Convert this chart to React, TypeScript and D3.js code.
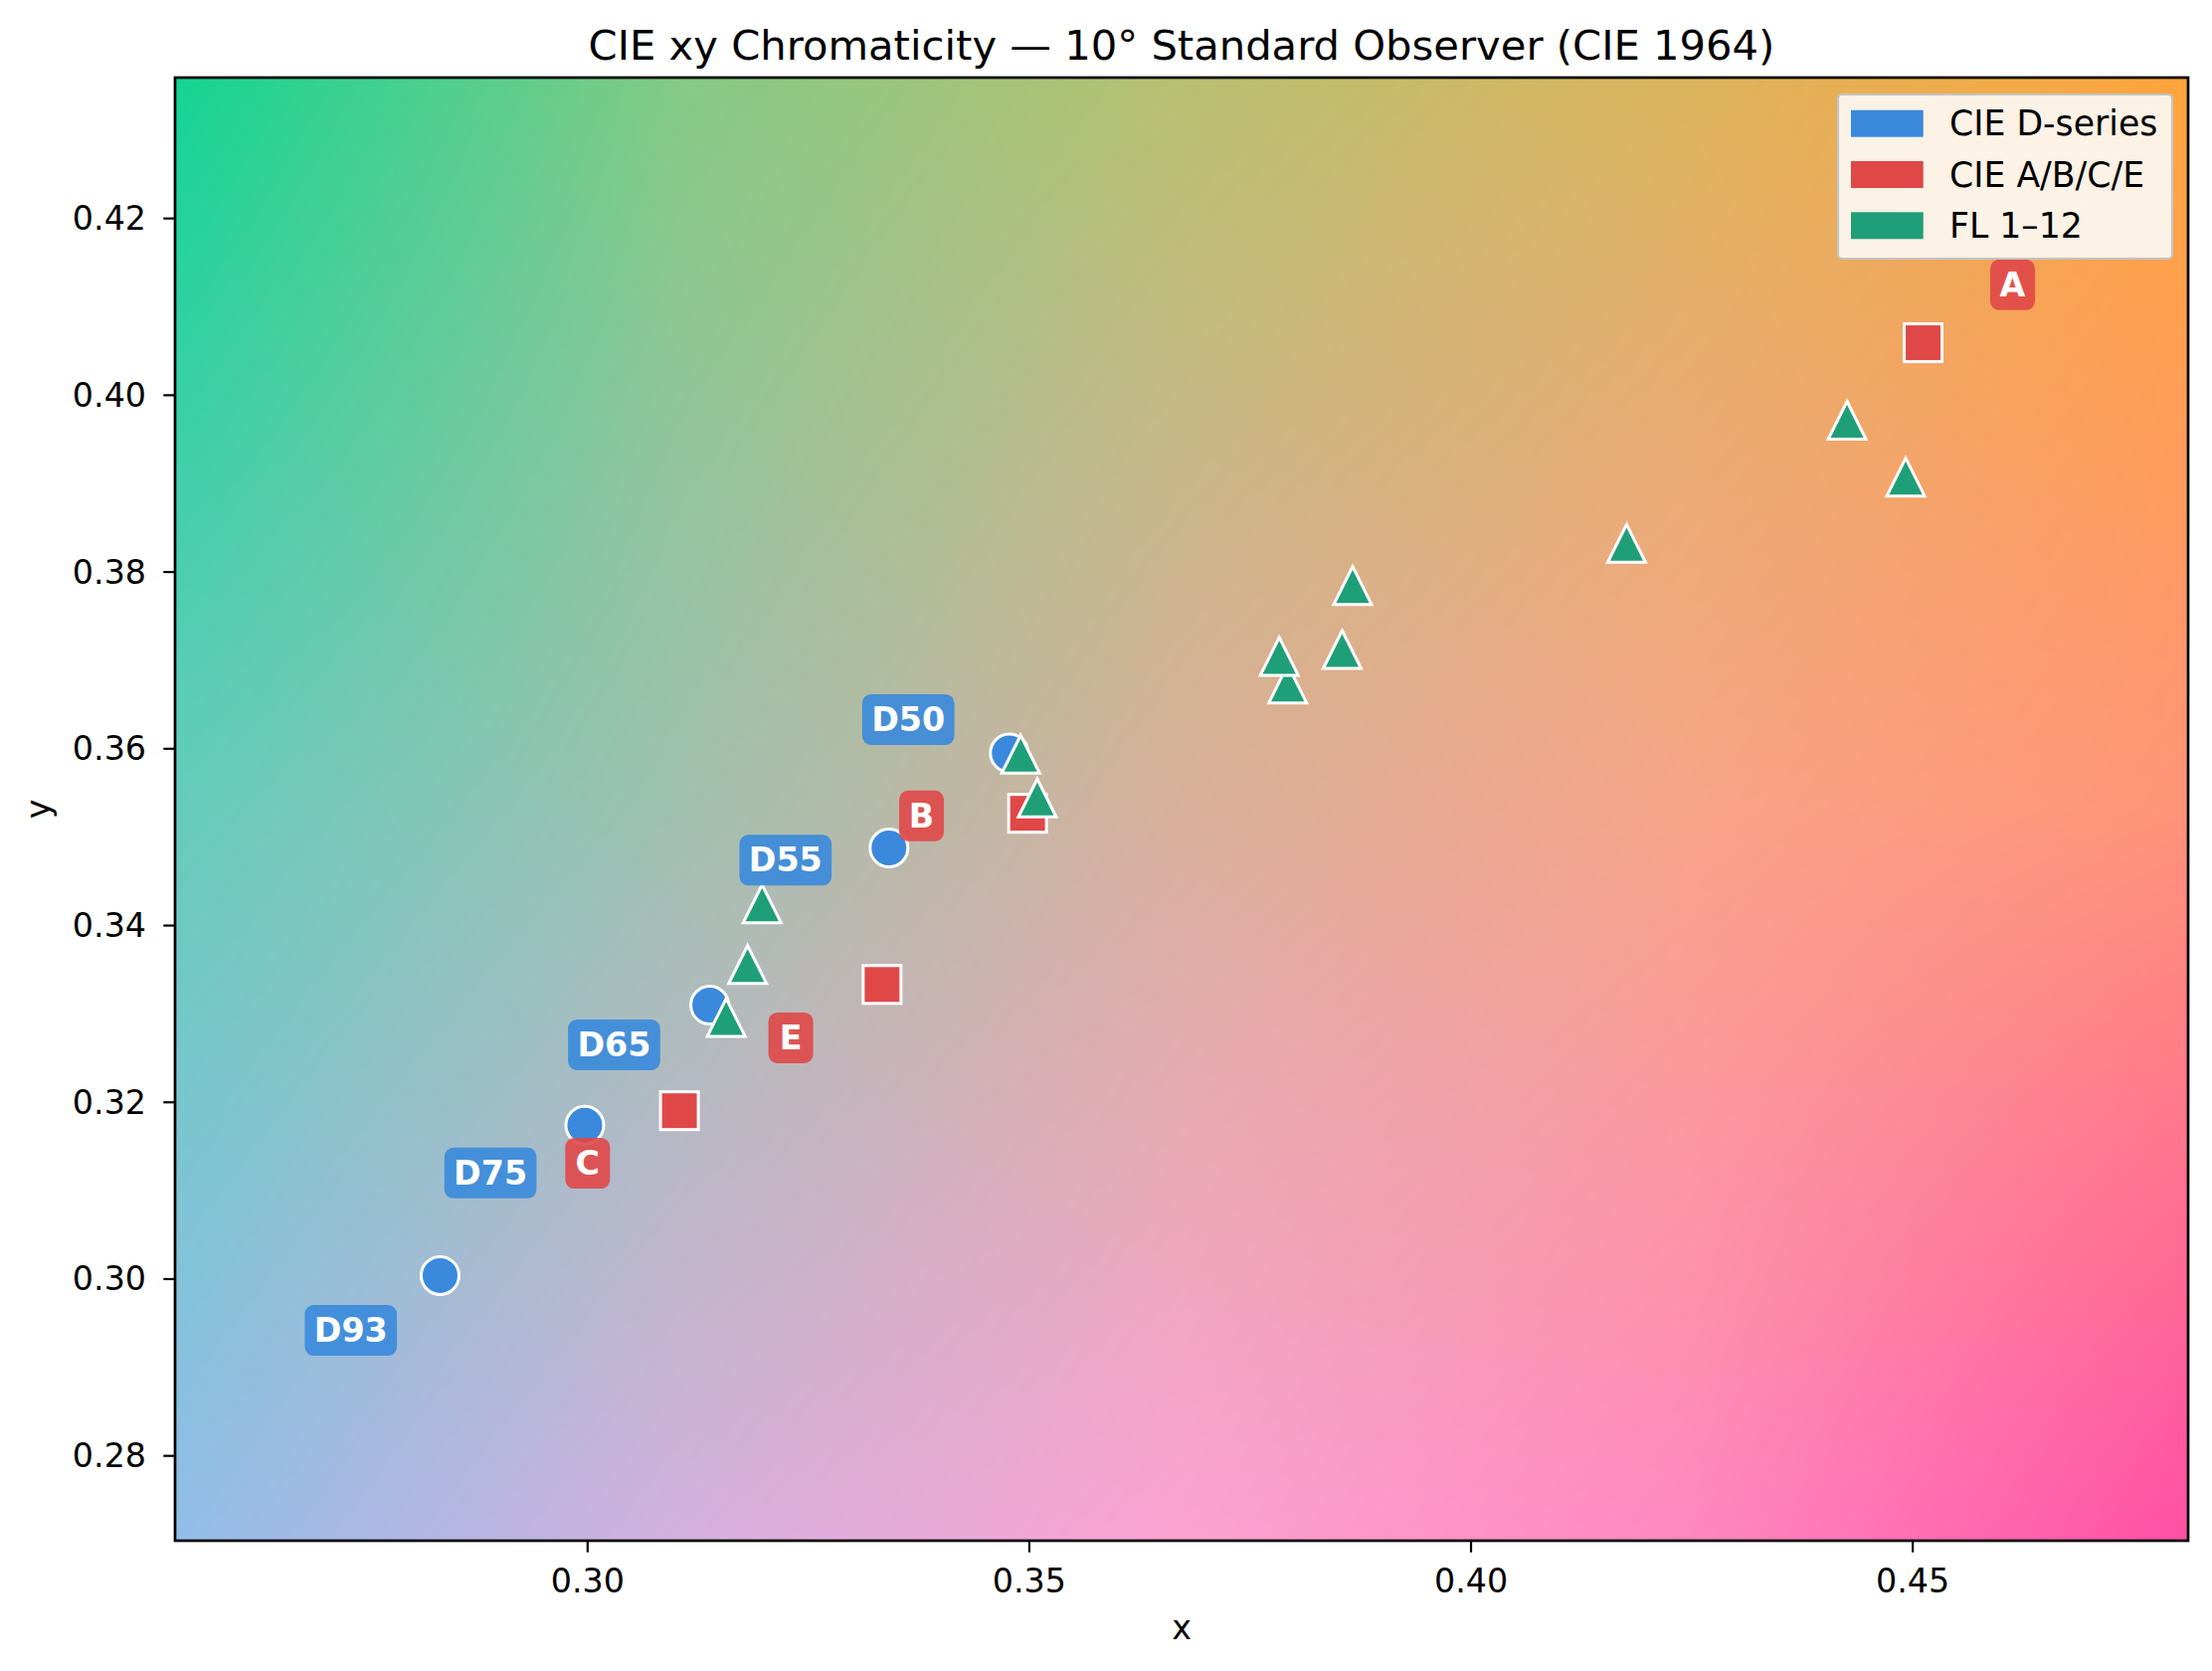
import React, { useMemo } from "react";
import * as d3 from "d3";

// ---------------- data ----------------
const D_NAMES = ["D50", "D55", "D65", "D75", "D93"];
const D_X = [0.34773, 0.33411, 0.31382, 0.29968, 0.2833];
const D_Y = [0.35952, 0.34877, 0.331, 0.3174, 0.3004];
const D_LABEL_X = [0.3363, 0.3224, 0.303, 0.289, 0.2732];
const D_LABEL_Y = [0.3633, 0.3474, 0.3265, 0.312, 0.2942];

const ABCE_NAMES = ["A", "B", "C", "E"];
const ABCE_X = [0.45117, 0.3498, 0.31039, 0.33333];
const ABCE_Y = [0.40594, 0.3527, 0.31905, 0.33333];
const ABCE_LABEL_X = [0.4613, 0.3378, 0.3, 0.323];
const ABCE_LABEL_Y = [0.4125, 0.3524, 0.3131, 0.3273];

const FL_NAMES = ["FL1", "FL2", "FL3", "FL4", "FL5", "FL6", "FL7", "FL8", "FL9", "FL10", "FL11", "FL12"];
const FL_X = [0.31811, 0.37925, 0.41761, 0.4492, 0.31975, 0.3866, 0.31569, 0.34902, 0.37829, 0.3509, 0.38541, 0.44256];
const FL_Y = [0.33559, 0.36733, 0.38324, 0.39074, 0.34246, 0.37847, 0.3296, 0.35939, 0.37045, 0.35444, 0.37123, 0.39717];

const X_TICKS = [0.3, 0.35, 0.4, 0.45];
const Y_TICKS = [0.28, 0.3, 0.32, 0.34, 0.36, 0.38, 0.4, 0.42];

const LEGEND_LABELS = ["CIE D-series", "CIE A/B/C/E", "FL 1\u201312"];
const TITLE = "CIE xy Chromaticity \u2014 10\u00b0 Standard Observer (CIE 1964)";

// background colour grid (rows top->bottom, columns left->right)
const BG_GRID = [
  ["#14d494", "#84ca86", "#b8c072", "#dcb45e", "#ffa43c"],
  ["#66ccbc", "#a0c0b0", "#d8b09c", "#f8a488", "#ff9478"],
  ["#92bde9", "#d4b0de", "#fca2d2", "#ff88c0", "#ff50a6"],
];

// ---------------- style ----------------
const W = 2224;
const H = 1680;
const PLOT = { left: 176, top: 78, right: 2200, bottom: 1549 };
const COL_D = "#3a89dc";
const COL_R = "#e04848";
const COL_G = "#1f9f77";
const FONT = "'DejaVu Sans', sans-serif";

function makeBackground(w: number, h: number): string {
  if (typeof document === "undefined") return "";
  const cv = document.createElement("canvas");
  cv.width = w;
  cv.height = h;
  const ctx = cv.getContext("2d");
  if (!ctx) return "";
  const rows = BG_GRID.map((r) => r.map((c) => d3.rgb(c)));
  const nr = rows.length;
  const nc = rows[0].length;
  const img = ctx.createImageData(w, h);
  for (let j = 0; j < h; j++) {
    const v = (j / (h - 1)) * (nr - 1);
    const r0 = Math.min(Math.floor(v), nr - 2);
    const fv = v - r0;
    for (let i = 0; i < w; i++) {
      const u = (i / (w - 1)) * (nc - 1);
      const c0 = Math.min(Math.floor(u), nc - 2);
      const fu = u - c0;
      const a = rows[r0][c0], b = rows[r0][c0 + 1], c = rows[r0 + 1][c0], d = rows[r0 + 1][c0 + 1];
      const k = (j * w + i) * 4;
      img.data[k] = (a.r * (1 - fu) + b.r * fu) * (1 - fv) + (c.r * (1 - fu) + d.r * fu) * fv;
      img.data[k + 1] = (a.g * (1 - fu) + b.g * fu) * (1 - fv) + (c.g * (1 - fu) + d.g * fu) * fv;
      img.data[k + 2] = (a.b * (1 - fu) + b.b * fu) * (1 - fv) + (c.b * (1 - fu) + d.b * fu) * fv;
      img.data[k + 3] = 255;
    }
  }
  ctx.putImageData(img, 0, 0);
  return cv.toDataURL();
}

const MARKER = 38;

function Label({ x, y, text, color }: { x: number; y: number; text: string; color: string }) {
  const fs = 33.3;
  const pad = 10;
  const tw = text.length === 1 ? 25 : 72.7;
  const w = tw + 2 * pad;
  const h = 51;
  return (
    <g>
      <rect x={x - w / 2} y={y - h / 2} width={w} height={h} rx={9} ry={9} fill={color} fillOpacity={0.9} />
      <text
        x={x}
        y={y}
        textAnchor="middle"
        dominantBaseline="central"
        fill="#ffffff"
        fontWeight="bold"
        fontSize={fs}
        fontFamily={FONT}
      >
        {text}
      </text>
    </g>
  );
}

export default function App() {
  const allX = [...D_X, ...ABCE_X, ...FL_X];
  const allY = [...D_Y, ...ABCE_Y, ...FL_Y];
  const xDom: [number, number] = [d3.min(allX)! - 0.03, d3.max(allX)! + 0.03];
  const yDom: [number, number] = [d3.min(allY)! - 0.03, d3.max(allY)! + 0.03];
  const x = d3.scaleLinear().domain(xDom).range([PLOT.left, PLOT.right]);
  const y = d3.scaleLinear().domain(yDom).range([PLOT.bottom, PLOT.top]);
  const pw = PLOT.right - PLOT.left;
  const ph = PLOT.bottom - PLOT.top;
  const bg = useMemo(() => makeBackground(Math.round(pw / 2), Math.round(ph / 2)), [pw, ph]);

  const triPath = (s: number) => {
    const hh = s / 2;
    return `M0,${-hh}L${hh},${hh}L${-hh},${hh}Z`;
  };

  return (
    <svg width={W} height={H} style={{ display: "block", margin: 0, position: "absolute", left: 0, top: 0 }}>
      <rect x={0} y={0} width={W} height={H} fill="#ffffff" />
      <defs>
        <clipPath id="plotclip">
          <rect x={PLOT.left} y={PLOT.top} width={pw} height={ph} />
        </clipPath>
      </defs>
      {bg && (
        <image href={bg} x={PLOT.left} y={PLOT.top} width={pw} height={ph} preserveAspectRatio="none" />
      )}
      <g clipPath="url(#plotclip)">
        {D_X.map((dx, i) => (
          <circle key={"d" + i} cx={x(dx)} cy={y(D_Y[i])} r={MARKER / 2} fill={COL_D} stroke="#fff" strokeWidth={3} />
        ))}
        {ABCE_X.map((ax, i) => (
          <rect
            key={"a" + i}
            x={x(ax) - MARKER / 2}
            y={y(ABCE_Y[i]) - MARKER / 2}
            width={MARKER}
            height={MARKER}
            fill={COL_R}
            stroke="#fff"
            strokeWidth={3}
          />
        ))}
        {FL_X.map((fx, i) => (
          <path
            key={"f" + i}
            transform={`translate(${x(fx)},${y(FL_Y[i])})`}
            d={triPath(MARKER)}
            fill={COL_G}
            stroke="#fff"
            strokeWidth={3}
            strokeLinejoin="miter"
          />
        ))}
        {D_NAMES.map((n, i) => (
          <Label key={"dl" + i} x={x(D_LABEL_X[i])} y={y(D_LABEL_Y[i])} text={n} color={COL_D} />
        ))}
        {ABCE_NAMES.map((n, i) => (
          <Label key={"al" + i} x={x(ABCE_LABEL_X[i])} y={y(ABCE_LABEL_Y[i])} text={n} color={COL_R} />
        ))}
      </g>
      {/* spines */}
      <rect x={PLOT.left} y={PLOT.top} width={pw} height={ph} fill="none" stroke="#000" strokeWidth={2.7} />
      {/* x axis */}
      {X_TICKS.map((t) => (
        <g key={"xt" + t}>
          <line x1={x(t)} x2={x(t)} y1={PLOT.bottom} y2={PLOT.bottom + 11.7} stroke="#000" strokeWidth={2.2} />
          <text x={x(t)} y={PLOT.bottom + 52} textAnchor="middle" fontSize={33.3} fontFamily={FONT} fill="#000">
            {t.toFixed(2)}
          </text>
        </g>
      ))}
      {Y_TICKS.map((t) => (
        <g key={"yt" + t}>
          <line x1={PLOT.left} x2={PLOT.left - 11.7} y1={y(t)} y2={y(t)} stroke="#000" strokeWidth={2.2} />
          <text
            x={PLOT.left - 29}
            y={y(t)}
            textAnchor="end"
            dominantBaseline="central"
            fontSize={33.3}
            fontFamily={FONT}
            fill="#000"
          >
            {t.toFixed(2)}
          </text>
        </g>
      ))}
      <text x={(PLOT.left + PLOT.right) / 2} y={1648} textAnchor="middle" fontSize={33.3} fontFamily={FONT}>
        x
      </text>
      <text
        transform={`translate(49.5, ${(PLOT.top + PLOT.bottom) / 2}) rotate(-90)`}
        textAnchor="middle"
        fontSize={33.3}
        fontFamily={FONT}
      >
        y
      </text>
      <text x={(PLOT.left + PLOT.right) / 2} y={60} textAnchor="middle" fontSize={41.7} fontFamily={FONT}>
        {TITLE}
      </text>
      {/* legend */}
      <g>
        <rect x={1848} y={95} width={336} height={165} rx={4} fill="#fcf6ee" fillOpacity={0.95} stroke="#c4c4c4" strokeWidth={2.2} />
        {LEGEND_LABELS.map((l, i) => {
          const cy = 124.2 + i * 51.3;
          const c = [COL_D, COL_R, COL_G][i];
          return (
            <g key={"lg" + i}>
              <rect x={1861} y={cy - 13.5} width={72.7} height={27} fill={c} />
              <text x={1960} y={cy} dominantBaseline="central" fontSize={34.7} fontFamily={FONT} fill="#000">
                {l}
              </text>
            </g>
          );
        })}
      </g>
    </svg>
  );
}
